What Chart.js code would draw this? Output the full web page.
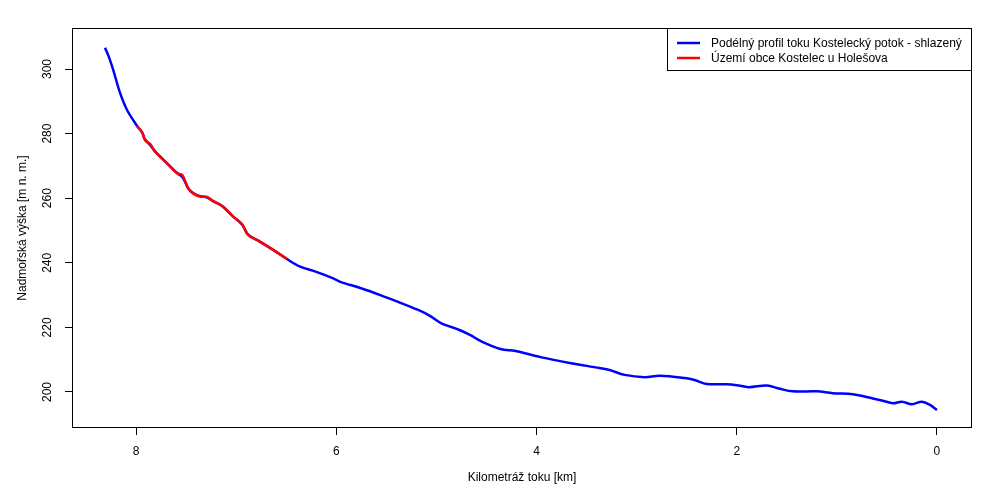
<!DOCTYPE html>
<html>
<head>
<meta charset="utf-8">
<script src="https://cdn.jsdelivr.net/npm/chart.js@4/dist/chart.umd.min.js"></script>
<style>
  html, body { margin: 0; padding: 0; background: #fff; }
  canvas { display: block; }
</style>
</head>
<body>
<canvas id="myChart" width="1000" height="500"></canvas>
<script>
// kilometráž toku [km] a nadmořská výška [m n. m.]
const kmProfil = [8.31, 8.27, 8.23, 8.16, 8.09, 7.99, 7.94, 7.91, 7.86, 7.81, 7.69, 7.59, 7.54, 7.51, 7.48, 7.43, 7.36, 7.29, 7.23, 7.14, 7.03, 6.94, 6.88, 6.76, 6.63, 6.49, 6.36, 6.20, 6.03, 5.96, 5.76, 5.56, 5.36, 5.16, 5.06, 4.96, 4.77, 4.66, 4.56, 4.36, 4.21, 3.96, 3.67, 3.37, 3.27, 3.12, 2.92, 2.77, 2.52, 2.42, 2.30, 2.10, 2.00, 1.88, 1.70, 1.57, 1.44, 1.20, 1.04, 0.84, 0.64, 0.54, 0.44, 0.35, 0.25, 0.15, 0.07, 0.00];
const vyskaProfil = [306.6, 303.6, 299.9, 292.6, 287.3, 282.4, 280.4, 278.2, 276.5, 274.5, 270.8, 267.8, 266.6, 265.0, 263.1, 261.6, 260.6, 260.2, 259.1, 257.6, 254.3, 251.8, 248.7, 246.5, 244.0, 241.1, 238.8, 237.2, 235.2, 234.1, 232.2, 230.0, 227.6, 225.1, 223.5, 221.4, 219.2, 217.6, 215.8, 213.3, 212.7, 210.8, 209.0, 207.4, 206.8, 205.3, 204.6, 205.0, 204.3, 203.7, 202.5, 202.4, 202.1, 201.5, 202.0, 201.0, 200.2, 200.2, 199.6, 199.3, 198.0, 197.3, 196.5, 197.0, 196.2, 197.0, 196.0, 194.4];

const kmObec = [7.99, 7.94, 7.91, 7.86, 7.81, 7.69, 7.59, 7.54, 7.51, 7.48, 7.43, 7.36, 7.29, 7.23, 7.14, 7.03, 6.94, 6.88, 6.76, 6.63, 6.49];
const vyskaObec = [282.3, 280.4, 277.9, 276.8, 274.4, 270.8, 267.7, 267.2, 265.3, 263.1, 261.5, 260.5, 260.4, 259.1, 257.6, 254.3, 251.9, 248.6, 246.5, 244.0, 241.1];

const xTicks = [0, 2, 4, 6, 8];
const yTicks = [200, 220, 240, 260, 280, 300];
const legendLabels = ['Podélný profil toku Kostelecký potok - shlazený', 'Území obce Kostelec u Holešova'];
const colors = ['#0000ff', '#ff0000'];

const FONT = 'Liberation Sans, Arial, Helvetica, sans-serif';

function toPoints(xs, ys) {
  return xs.map((x, i) => ({ x: x, y: ys[i] }));
}

// rámeček, svislé popisky osy y a legenda jako v R
const rPlot = {
  id: 'rPlot',
  afterDraw(chart) {
    const ctx = chart.ctx;
    const a = chart.chartArea;
    const ys = chart.scales.y;
    ctx.save();
    ctx.strokeStyle = '#000';
    ctx.lineWidth = 1;
    ctx.strokeRect(a.left + 0.5, a.top + 0.5, a.right - a.left - 1, a.bottom - a.top - 1);

    ctx.fillStyle = '#000';
    ctx.font = '12px ' + FONT;
    ctx.textAlign = 'center';
    ctx.textBaseline = 'middle';
    yTicks.forEach(t => {
      const py = ys.getPixelForValue(t);
      ctx.save();
      ctx.translate(48, py);
      ctx.rotate(-Math.PI / 2);
      ctx.fillText(String(t), 0, 0);
      ctx.restore();
    });

    // legenda
    const lx = 667, ly = 28, lw = a.right - 667, lh = 43;
    ctx.fillStyle = '#fff';
    ctx.fillRect(lx, ly, lw, lh);
    ctx.strokeRect(lx + 0.5, ly + 0.5, lw - 1, lh - 1);
    ctx.textAlign = 'left';
    legendLabels.forEach((txt, i) => {
      const yy = 43 + i * 15;
      ctx.strokeStyle = colors[i];
      ctx.lineWidth = 2.5;
      ctx.beginPath();
      ctx.moveTo(677, yy);
      ctx.lineTo(700, yy);
      ctx.stroke();
      ctx.fillStyle = '#000';
      ctx.fillText(txt, 711, yy + 1);
    });
    ctx.restore();
  }
};

new Chart(document.getElementById('myChart'), {
  type: 'line',
  data: {
    datasets: [
      {
        label: legendLabels[0],
        data: toPoints(kmProfil, vyskaProfil),
        borderColor: colors[0],
        borderWidth: 2.5,
        pointRadius: 0,
        tension: 0.35,
        fill: false,
        order: 2
      },
      {
        label: legendLabels[1],
        data: toPoints(kmObec, vyskaObec),
        borderColor: colors[1],
        borderWidth: 2.5,
        pointRadius: 0,
        tension: 0.35,
        fill: false,
        order: 1
      }
    ]
  },
  options: {
    responsive: false,
    animation: false,
    layout: { padding: { top: 28, right: 28, left: 0, bottom: 0 } },
    plugins: {
      legend: { display: false },
      tooltip: { enabled: false }
    },
    scales: {
      x: {
        type: 'linear',
        reverse: true,
        min: -0.35,
        max: 8.64,
        afterBuildTicks: s => { s.ticks = xTicks.map(v => ({ value: v })); },
        afterFit: s => { s.height = 72; },
        grid: { drawOnChartArea: false, color: '#000', tickLength: 7 },
        border: { display: false },
        ticks: { color: '#000', font: { family: FONT, size: 12 }, padding: 9, maxRotation: 0 },
        title: { display: true, text: 'Kilometráž toku [km]', color: '#000', font: { family: FONT, size: 12 }, padding: { top: 0, bottom: 15 } }
      },
      y: {
        type: 'linear',
        min: 188.85,
        max: 312.7,
        afterBuildTicks: s => { s.ticks = yTicks.map(v => ({ value: v })); },
        afterFit: s => { s.width = 72; },
        grid: { drawOnChartArea: false, color: '#000', tickLength: 7 },
        border: { display: false },
        ticks: { color: 'rgba(0,0,0,0)', font: { family: FONT, size: 12 } },
        title: { display: true, text: 'Nadmořská výška [m n. m.]', color: '#000', font: { family: FONT, size: 12 }, padding: { top: 15, bottom: 0 } }
      }
    }
  },
  plugins: [rPlot]
});
</script>
</body>
</html>
